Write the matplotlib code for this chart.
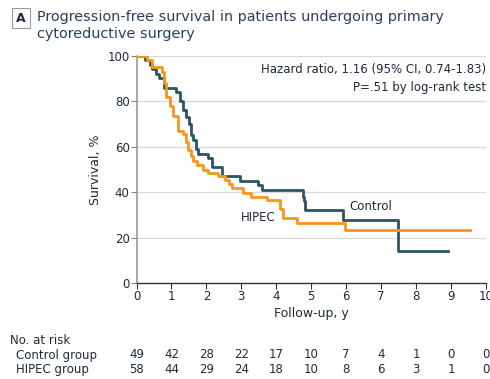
import numpy as np
import matplotlib
matplotlib.use("Agg")
import matplotlib.pyplot as plt

plt.rcParams['font.family'] = ['DejaVu Sans']

# Kaplan-Meier steps (years, % surviving)
control_t = [0, 0.25, 0.38, 0.45, 0.55, 0.65, 0.8, 1.13, 1.25, 1.33, 1.42, 1.5, 1.56,
             1.61, 1.7, 1.76, 2.04, 2.15, 2.45, 2.96, 3.47, 3.6, 4.76, 4.79, 4.81, 5.9,
             7.47, 8.9]
control_s = [100, 98, 96, 94, 92, 90, 86, 84, 80, 76, 73, 70, 65,
             63, 59, 57, 55, 51, 47, 45, 43, 41, 38, 36, 32, 28,
             14, 14]

hipec_t = [0, 0.29, 0.43, 0.72, 0.78, 0.85, 0.95, 1.05, 1.18, 1.33, 1.42, 1.47, 1.55,
           1.63, 1.72, 1.9, 2.05, 2.33, 2.53, 2.65, 2.72, 3.04, 3.29, 3.72, 4.1, 4.18,
           4.58, 5.96, 9.55]
hipec_s = [100, 98.3, 95, 93, 88, 82, 78, 73.4, 67, 65.5, 62, 58.6, 55.8,
           53.6, 52, 50, 48.6, 47, 45.5, 43.7, 42, 39.6, 38, 36.7, 32.5, 28.6,
           26.5, 23.5, 23.5]

years = list(range(11))
risk_control = [49, 42, 28, 22, 17, 10, 7, 4, 1, 0, 0]
risk_hipec = [58, 44, 29, 24, 18, 10, 8, 6, 3, 1, 0]

c_control = '#2b5562'
c_hipec = '#f5961e'
txt = '#1f2a3a'

fig = plt.figure(figsize=(4.9, 3.79), dpi=100)
ax = fig.add_axes([0.2786, 0.2525, 0.7132, 0.6005])

for y in [20, 40, 60, 80, 100]:
    ax.axhline(y, color='#d9d9d9', lw=0.9, zorder=0)

ax.step(control_t, control_s, where='post', color=c_control, lw=2.0, zorder=2)
ax.step(hipec_t, hipec_s, where='post', color=c_hipec, lw=2.0, zorder=3)

ax.set_xlim(0, 10)
ax.set_ylim(0, 100)
ax.set_xticks(years)
ax.set_yticks([0, 20, 40, 60, 80, 100])
ax.tick_params(axis='both', labelsize=8.5, colors=txt, length=4, width=0.8, pad=1)
ax.tick_params(axis='y', color='#888888')
ax.tick_params(axis='x', color='#333333')
for s in ['top', 'right']:
    ax.spines[s].set_visible(False)
ax.spines['left'].set_color('#999999')
ax.spines['left'].set_linewidth(1.2)
ax.spines['bottom'].set_color('#333333')
ax.spines['bottom'].set_linewidth(1.0)

ax.set_xlabel('Follow-up, y', fontsize=9, color=txt, labelpad=3)
ax.set_ylabel('Survival, %', fontsize=9, color=txt, labelpad=4)

ax.text(10, 94.0, 'Hazard ratio, 1.16 (95% CI, 0.74-1.83)', ha='right', va='center',
        fontsize=8.5, color=txt)
ax.text(10, 86.0, 'P=.51 by log-rank test', ha='right', va='center',
        fontsize=8.5, color=txt)
ax.text(6.1, 33.6, 'Control', ha='left', va='center', fontsize=8.5, color=txt)
ax.text(2.99, 28.8, 'HIPEC', ha='left', va='center', fontsize=8.5, color=txt)

# title with boxed panel letter
fig.text(21 / 490, 1 - 18 / 379, 'A', ha='center', va='center', fontsize=9,
         fontweight='bold', color=txt,
         bbox=dict(boxstyle='square,pad=0.3', fc='white', ec='#999999', lw=0.8))
fig.text(37 / 490, 1 - 17 / 379, 'Progression-free survival in patients undergoing primary',
         ha='left', va='center', fontsize=10.4, color='#2c3e5c')
fig.text(37 / 490, 1 - 34 / 379, 'cytoreductive surgery',
         ha='left', va='center', fontsize=10.4, color='#2c3e5c')

# number at risk table
fig.text(10 / 490, 1 - 340 / 379, 'No. at risk', ha='left', va='center', fontsize=8.5, color=txt)
fig.text(16 / 490, 1 - 355 / 379, 'Control group', ha='left', va='center', fontsize=8.5, color=txt)
fig.text(16 / 490, 1 - 370 / 379, 'HIPEC group', ha='left', va='center', fontsize=8.5, color=txt)
trans = ax.get_xaxis_transform()
for x, a, b in zip(years, risk_control, risk_hipec):
    ax.text(x, (283.3 - 355) / 227.6, str(a), transform=trans, ha='center', va='center',
            fontsize=8.5, color=txt, clip_on=False)
    ax.text(x, (283.3 - 370) / 227.6, str(b), transform=trans, ha='center', va='center',
            fontsize=8.5, color=txt, clip_on=False)

fig.savefig('out.png', dpi=100)
